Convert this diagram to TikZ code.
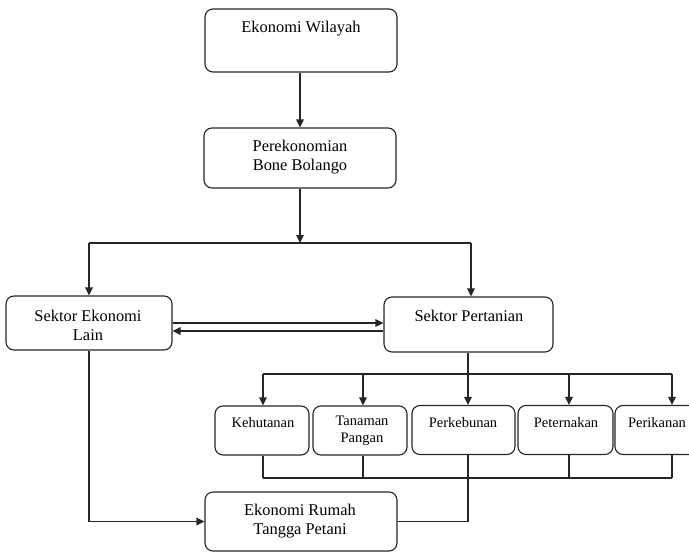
\documentclass[tikz,border=0pt]{standalone}
\usepackage{fontspec}
\setmainfont{Liberation Serif}
\usetikzlibrary{arrows.meta}
\begin{document}
\begin{tikzpicture}[x=1pt,y=-1pt,
  box/.style={draw=black!85,line width=1.1pt,rounded corners=8pt,rectangle,inner sep=0pt,fill=white},
  bigtxt/.style={inner sep=0pt,align=center,font=\fontsize{16.4}{19}\selectfont},
  smalltxt/.style={inner sep=0pt,align=center,font=\fontsize{14.5}{17}\selectfont},
  conn/.style={draw=black!85,line width=1.3pt},
  arr/.style={conn,-{Triangle[length=8pt,width=7.5pt]}}]
\useasboundingbox (0,0) rectangle (689,552);
\clip (0,0) rectangle (689,552);
% boxes
\node[box,minimum width=192pt,minimum height=63pt] (ew) at (301,40.5) {};
\node[box,minimum width=192pt,minimum height=60pt] (pb) at (300,158) {};
\node[box,minimum width=166pt,minimum height=54pt] (sel) at (89,323) {};
\node[box,minimum width=169pt,minimum height=55pt] (sp) at (468.5,324.5) {};
\node[box,minimum width=94pt,minimum height=49pt] (kh) at (262,430.5) {};
\node[box,minimum width=94pt,minimum height=49pt] (tp) at (360,430.5) {};
\node[box,minimum width=103pt,minimum height=49pt] (pk) at (463.5,430) {};
\node[box,minimum width=95pt,minimum height=49pt] (pt) at (565.5,430) {};
\node[box,minimum width=94pt,minimum height=49pt] (pi) at (662,430) {};
\node[box,minimum width=192pt,minimum height=59pt] (er) at (301,521.5) {};
% texts
\node[bigtxt] (ewt) at (301,29) {Ekonomi Wilayah};
\node[bigtxt] (pbt) at (300,157) {Perekonomian\\Bone Bolango};
\node[bigtxt] (selt) at (88,325) {Sektor Ekonomi\\Lain};
\node[bigtxt] (spt) at (469,316) {Sektor Pertanian};
\node[smalltxt] (kht) at (263,423) {Kehutanan};
\node[smalltxt] (tpt) at (362,431) {Tanaman\\Pangan};
\node[smalltxt] (pkt) at (463,423) {Perkebunan};
\node[smalltxt] (ptt) at (566,423) {Peternakan};
\node[smalltxt] (pit) at (657,423) {Perikanan};
\node[bigtxt] (ert) at (300,521) {Ekonomi Rumah\\Tangga Petani};
% junction coordinates
\coordinate (ja) at (300,243);
\coordinate (b1) at (263,374);
\coordinate (b2) at (363,374);
\coordinate (b3) at (468,374);
\coordinate (b4) at (569,374);
\coordinate (b5) at (672,374);
\coordinate (bus) at (263,478);
% connectors
\draw[arr] (pb.north |- ew.south) -- (pb.north);
\draw[arr] (pb.south) -- (ja);
\draw[conn] (sel.north |- ja) -- ([xshift=2.5pt]sp.north |- ja);
\draw[arr] (sel.north |- ja) -- (sel.north);
\draw[arr] ([xshift=2.5pt]sp.north |- ja) -- ([xshift=2.5pt]sp.north);
\draw[arr] (sel.east) -- (sel.east -| sp.west);
\draw[arr] ([yshift=-8pt]sel.east -| sp.west) -- ([yshift=-8pt]sel.east);
\draw[conn] (b3 |- sp.south) -- (b3);
\draw[conn] (b1) -- (b5);
\draw[arr] (b1) -- (b1 |- kh.north);
\draw[arr] (b2) -- (b2 |- tp.north);
\draw[arr] (b3) -- (b3 |- pk.north);
\draw[arr] (b4) -- (b4 |- pt.north);
\draw[arr] (b5) -- (b5 |- pi.north);
\draw[conn] (b1 |- kh.south) -- (b1 |- bus);
\draw[conn] (b2 |- tp.south) -- (b2 |- bus);
\draw[conn] (b4 |- pt.south) -- (b4 |- bus);
\draw[conn] (b5 |- pi.south) -- (b5 |- bus);
\draw[conn] (bus) -- (b5 |- bus);
\draw[conn] (b3 |- pk.south) |- (er.east);
\draw[arr] (sel.south) |- (er.west);
\end{tikzpicture}
\end{document}
